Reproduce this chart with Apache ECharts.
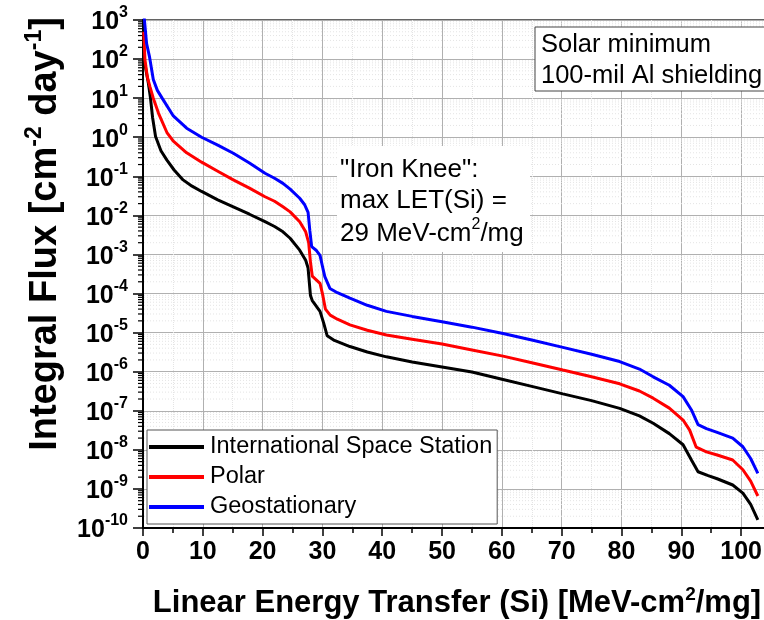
<!DOCTYPE html>
<html>
<head>
<meta charset="utf-8">
<script src="https://cdn.jsdelivr.net/npm/echarts@6/dist/echarts.min.js"></script>
<style>html,body{margin:0;padding:0;background:#fff}#chart{width:764px;height:620px}</style>
</head>
<body>
<div id="chart"></div>
<script>
// ---- Data (LET in MeV-cm2/mg, integral flux in cm^-2 day^-1) ----
const issLET  = [0.15,0.5,0.9,1.25,1.6,2.1,3.0,4.0,5.2,6.7,8.2,9.8,12.5,15.1,17.8,20.4,22.0,23.4,24.6,26.2,27.2,27.6,28.0,28.3,29.6,30.2,30.8,32.0,34.6,37.5,40.7,45,50,55,60.2,65,70.2,75,79.7,83,85.3,88,90.3,91.7,92.8,94.5,96,98.6,100.3,101.6,102.8];
const issFlux = [1.05e2,5.2e1,2.4e1,1.0e1,3.2,1.05,4.5e-1,2.6e-1,1.45e-1,8.1e-2,5.6e-2,4.1e-2,2.5e-2,1.66e-2,1.07e-2,6.9e-3,5.2e-3,3.8e-3,2.6e-3,1.29e-3,7.1e-4,4.5e-4,8.9e-5,6.6e-5,3.5e-5,1.78e-5,8.3e-6,6.3e-6,4.4e-6,3.2e-6,2.4e-6,1.78e-6,1.32e-6,9.8e-7,6.3e-7,4.2e-7,2.7e-7,1.82e-7,1.15e-7,7.4e-8,4.8e-8,2.6e-8,1.35e-8,5.5e-9,2.75e-9,2.2e-9,1.82e-9,1.26e-9,7.8e-10,4.0e-10,1.62e-10];

const polarLET  = [0.12,0.33,0.72,1.17,1.72,2.6,4.0,5.07,7.3,9.8,12.5,15.1,17.8,20.4,22.0,23.4,24.6,26.2,27.2,27.7,28.0,28.3,29.6,30.0,30.5,31.3,32.5,34.6,37.5,40.7,45,50,55,60.2,65,70.2,75,79.7,83,85.3,88,90.3,91.4,92.5,94.2,96,98.6,100.3,101.6,102.8];
const polarFlux = [5.0e2,9.5e1,3.5e1,1.95e1,1.0e1,4.1,1.32,7.9e-1,4.0e-1,2.3e-1,1.35e-1,8.1e-2,5.0e-2,3.0e-2,2.3e-2,1.66e-2,1.23e-2,6.9e-3,3.8e-3,2.0e-3,6.3e-4,2.8e-4,1.82e-4,1.0e-4,4.0e-5,2.8e-5,2.2e-5,1.58e-5,1.15e-5,8.7e-6,6.8e-6,5.1e-6,3.6e-6,2.5e-6,1.7e-6,1.1e-6,7.4e-7,4.9e-7,3.2e-7,2.1e-7,1.17e-7,5.8e-8,3.2e-8,1.17e-8,8.9e-9,7.4e-9,5.5e-9,3.1e-9,1.58e-9,6.6e-10];

const geoLET  = [0.18,0.6,1.1,1.72,2.4,3.2,5.07,7.3,9.8,12.5,15.1,17.8,20.4,22.0,23.4,24.6,26.2,27.0,27.6,27.9,28.2,29.0,29.6,30.0,30.4,31.25,32.5,34.6,37.5,40.7,45,50,55,60.2,65,70.2,75,79.7,83,85.3,88,90.3,91.7,92.8,94.2,96,98.6,100.3,101.6,102.8];
const geoFlux = [1.26e3,2.5e2,1.12e2,3.0e1,1.58e1,1.0e1,3.5,1.7,1.0,6.3e-1,3.9e-1,2.2e-1,1.2e-1,8.9e-2,6.6e-2,4.7e-2,2.75e-2,1.9e-2,1.2e-2,4.0e-3,1.58e-3,1.26e-3,9.5e-4,5.0e-4,2.7e-4,1.35e-4,1.05e-4,7.6e-5,5.0e-5,3.5e-5,2.6e-5,1.9e-5,1.38e-5,9.5e-6,6.5e-6,4.2e-6,2.8e-6,1.82e-6,1.17e-6,7.4e-7,4.5e-7,2.3e-7,1.05e-7,4.4e-8,3.5e-8,2.8e-8,2.0e-8,1.2e-8,6.0e-9,2.5e-9];

const seriesNames = ['International Space Station', 'Polar', 'Geostationary'];
const xTickLabels = ['0','10','20','30','40','50','60','70','80','90','100'];
const yDecades = [-10,-9,-8,-7,-6,-5,-4,-3,-2,-1,0,1,2,3];
const logMinorMultipliers = [2,3,4,5,6,7,8,9];

const X_MIN = 0, X_MAX = 105, Y_MIN = 1e-10, Y_MAX = 1e3;
const FONT = "'Liberation Sans', Arial, Helvetica, sans-serif";

function pairs(xs, ys) { return xs.map((x, i) => [x, ys[i]]); }

// log-axis minor tick positions (2..9 x 10^k) for decoration
const minorVals = [];
yDecades.slice(0, -1).forEach(k => logMinorMultipliers.forEach(m => minorVals.push([X_MIN, m * Math.pow(10, k)])));

const chart = echarts.init(document.getElementById('chart'), null, {renderer: 'canvas'});

const lineColors = ['#000000', '#ff0000', '#0000ff'];
const dataSets = [pairs(issLET, issFlux), pairs(polarLET, polarFlux), pairs(geoLET, geoFlux)];

const option = {
  animation: false,
  backgroundColor: '#ffffff',
  textStyle: {fontFamily: FONT},
  grid: {left: 143, right: -7, top: 20, bottom: 92, show: true, borderColor: '#303030', borderWidth: 1.5,
         backgroundColor: 'transparent', containLabel: false, outerBoundsMode: 'none'},
  xAxis: {
    type: 'value', min: X_MIN, max: X_MAX, interval: 10,
    axisLine: {show: true, lineStyle: {color: '#000', width: 2}},
    axisTick: {show: true, length: 8, lineStyle: {color: '#000', width: 1.5}},
    minorTick: {show: true, splitNumber: 2, length: 5, lineStyle: {color: '#000', width: 1.5}},
    splitLine: {show: true, lineStyle: {color: '#b0b0b0', width: 1}},
    minorSplitLine: {show: true, lineStyle: {color: '#e4e4e4', width: 1, type: 'dotted'}},
    axisLabel: {
      margin: 12, color: '#000', fontSize: 25, fontWeight: 'bold', fontFamily: FONT,
      formatter: v => { const s = String(Math.round(v)); return xTickLabels.indexOf(s) >= 0 && Math.abs(v - Math.round(v)) < 1e-9 ? s : ''; }
    },
    name: '{t|Linear Energy Transfer (Si) [MeV-cm}{s|2}{t|/mg]}',
    nameLocation: 'middle', nameGap: 57,
    nameTextStyle: {
      rich: {
        t: {fontSize: 31, fontWeight: 'bold', color: '#000', fontFamily: FONT, lineHeight: 34, verticalAlign: 'bottom'},
        s: {fontSize: 19, fontWeight: 'bold', color: '#000', fontFamily: FONT, lineHeight: 20, verticalAlign: 'top'}
      }
    }
  },
  yAxis: {
    type: 'log', logBase: 10, min: Y_MIN, max: Y_MAX, interval: 1, splitNumber: 13,
    axisLine: {show: true, lineStyle: {color: '#000', width: 2}},
    axisTick: {show: true, length: 10, lineStyle: {color: '#000', width: 1.5}},
    splitLine: {show: true, lineStyle: {color: '#b0b0b0', width: 1}},
    axisLabel: {
      margin: 15, color: '#000', fontFamily: FONT,
      formatter: v => { const e = Math.round(Math.log10(v)); return '{b|10}{s|' + e + '}'; },
      rich: {
        b: {fontSize: 25, fontWeight: 'bold', color: '#000', fontFamily: FONT, lineHeight: 30, verticalAlign: 'bottom'},
        s: {fontSize: 16, fontWeight: 'bold', color: '#000', fontFamily: FONT, lineHeight: 18, verticalAlign: 'top'}
      }
    }
  },
  legend: {
    data: seriesNames,
    orient: 'vertical', left: 147, top: 430,
    backgroundColor: '#fff', borderColor: '#555', borderWidth: 1,
    padding: [5, 5, 5, 2], itemGap: 6,
    itemWidth: 55, itemHeight: 4, icon: 'rect',
    textStyle: {fontSize: 23.5, color: '#000', fontFamily: FONT, lineHeight: 24, padding: [0, 0, 0, 1]}
  },
  graphic: [
    {type: 'rect', z: 100, shape: {x: 535, y: 27, width: 240, height: 64}, style: {fill: '#fff', stroke: '#444', lineWidth: 1}},
    {type: 'text', z: 101, x: 541, y: 45, style: {text: 'Solar minimum', fontSize: 25.5, fontFamily: FONT, fill: '#000', verticalAlign: 'middle'}},
    {type: 'text', z: 101, x: 541, y: 76, style: {text: '100-mil Al shielding', fontSize: 25.5, fontFamily: FONT, fill: '#000', verticalAlign: 'middle'}},
    {type: 'rect', z: 100, shape: {x: 337, y: 146, width: 193, height: 106}, style: {fill: '#fff'}},
    {type: 'text', z: 101, x: 340, y: 170, style: {text: '"Iron Knee":', fontSize: 26, fontFamily: FONT, fill: '#000', verticalAlign: 'middle'}},
    {type: 'text', z: 101, x: 340, y: 201, style: {text: 'max LET(Si) =', fontSize: 26, fontFamily: FONT, fill: '#000', verticalAlign: 'middle'}},
    {type: 'text', z: 101, x: 340, y: 232, style: {
      text: '{t|29 MeV-cm}{s|2}{t|/mg}', verticalAlign: 'middle',
      rich: {
        t: {fontSize: 26, fontFamily: FONT, fill: '#000', lineHeight: 30, verticalAlign: 'bottom'},
        s: {fontSize: 16, fontFamily: FONT, fill: '#000', lineHeight: 16, verticalAlign: 'top'}
      }
    }},
    {type: 'text', z: 101, x: 44, y: 234, rotation: Math.PI / 2, style: {
      text: '{t|Integral Flux [cm}{s|-2}{t| day}{s|-1}{t|]}', align: 'center', verticalAlign: 'middle',
      rich: {
        t: {fontSize: 38, fontWeight: 'bold', fontFamily: FONT, fill: '#000', lineHeight: 42, verticalAlign: 'bottom'},
        s: {fontSize: 23, fontWeight: 'bold', fontFamily: FONT, fill: '#000', lineHeight: 24, verticalAlign: 'top'}
      }
    }}
  ],
  series: [
    {
      type: 'custom', name: 'logMinor', silent: true, clip: false, z: 1,
      data: minorVals,
      renderItem: (params, api) => {
        const v = api.value(1);
        const p = api.coord([X_MIN, v]);
        const r = api.coord([X_MAX, v]);
        return {type: 'group', children: [
          {type: 'line', shape: {x1: p[0] + 1, y1: p[1], x2: r[0], y2: r[1]}, style: {stroke: '#e4e4e4', lineWidth: 1, lineDash: [1, 2]}},
          {type: 'line', shape: {x1: p[0] - 5, y1: p[1], x2: p[0], y2: p[1]}, style: {stroke: '#000', lineWidth: 1.2}}
        ]};
      }
    }
  ].concat(seriesNames.map((n, i) => ({
    type: 'line', name: n, data: dataSets[i], showSymbol: false, symbol: 'none',
    lineStyle: {color: lineColors[i], width: 3}, itemStyle: {color: lineColors[i]},
    z: 5 + i, smooth: false
  })))
};
chart.setOption(option);
</script>
</body>
</html>
